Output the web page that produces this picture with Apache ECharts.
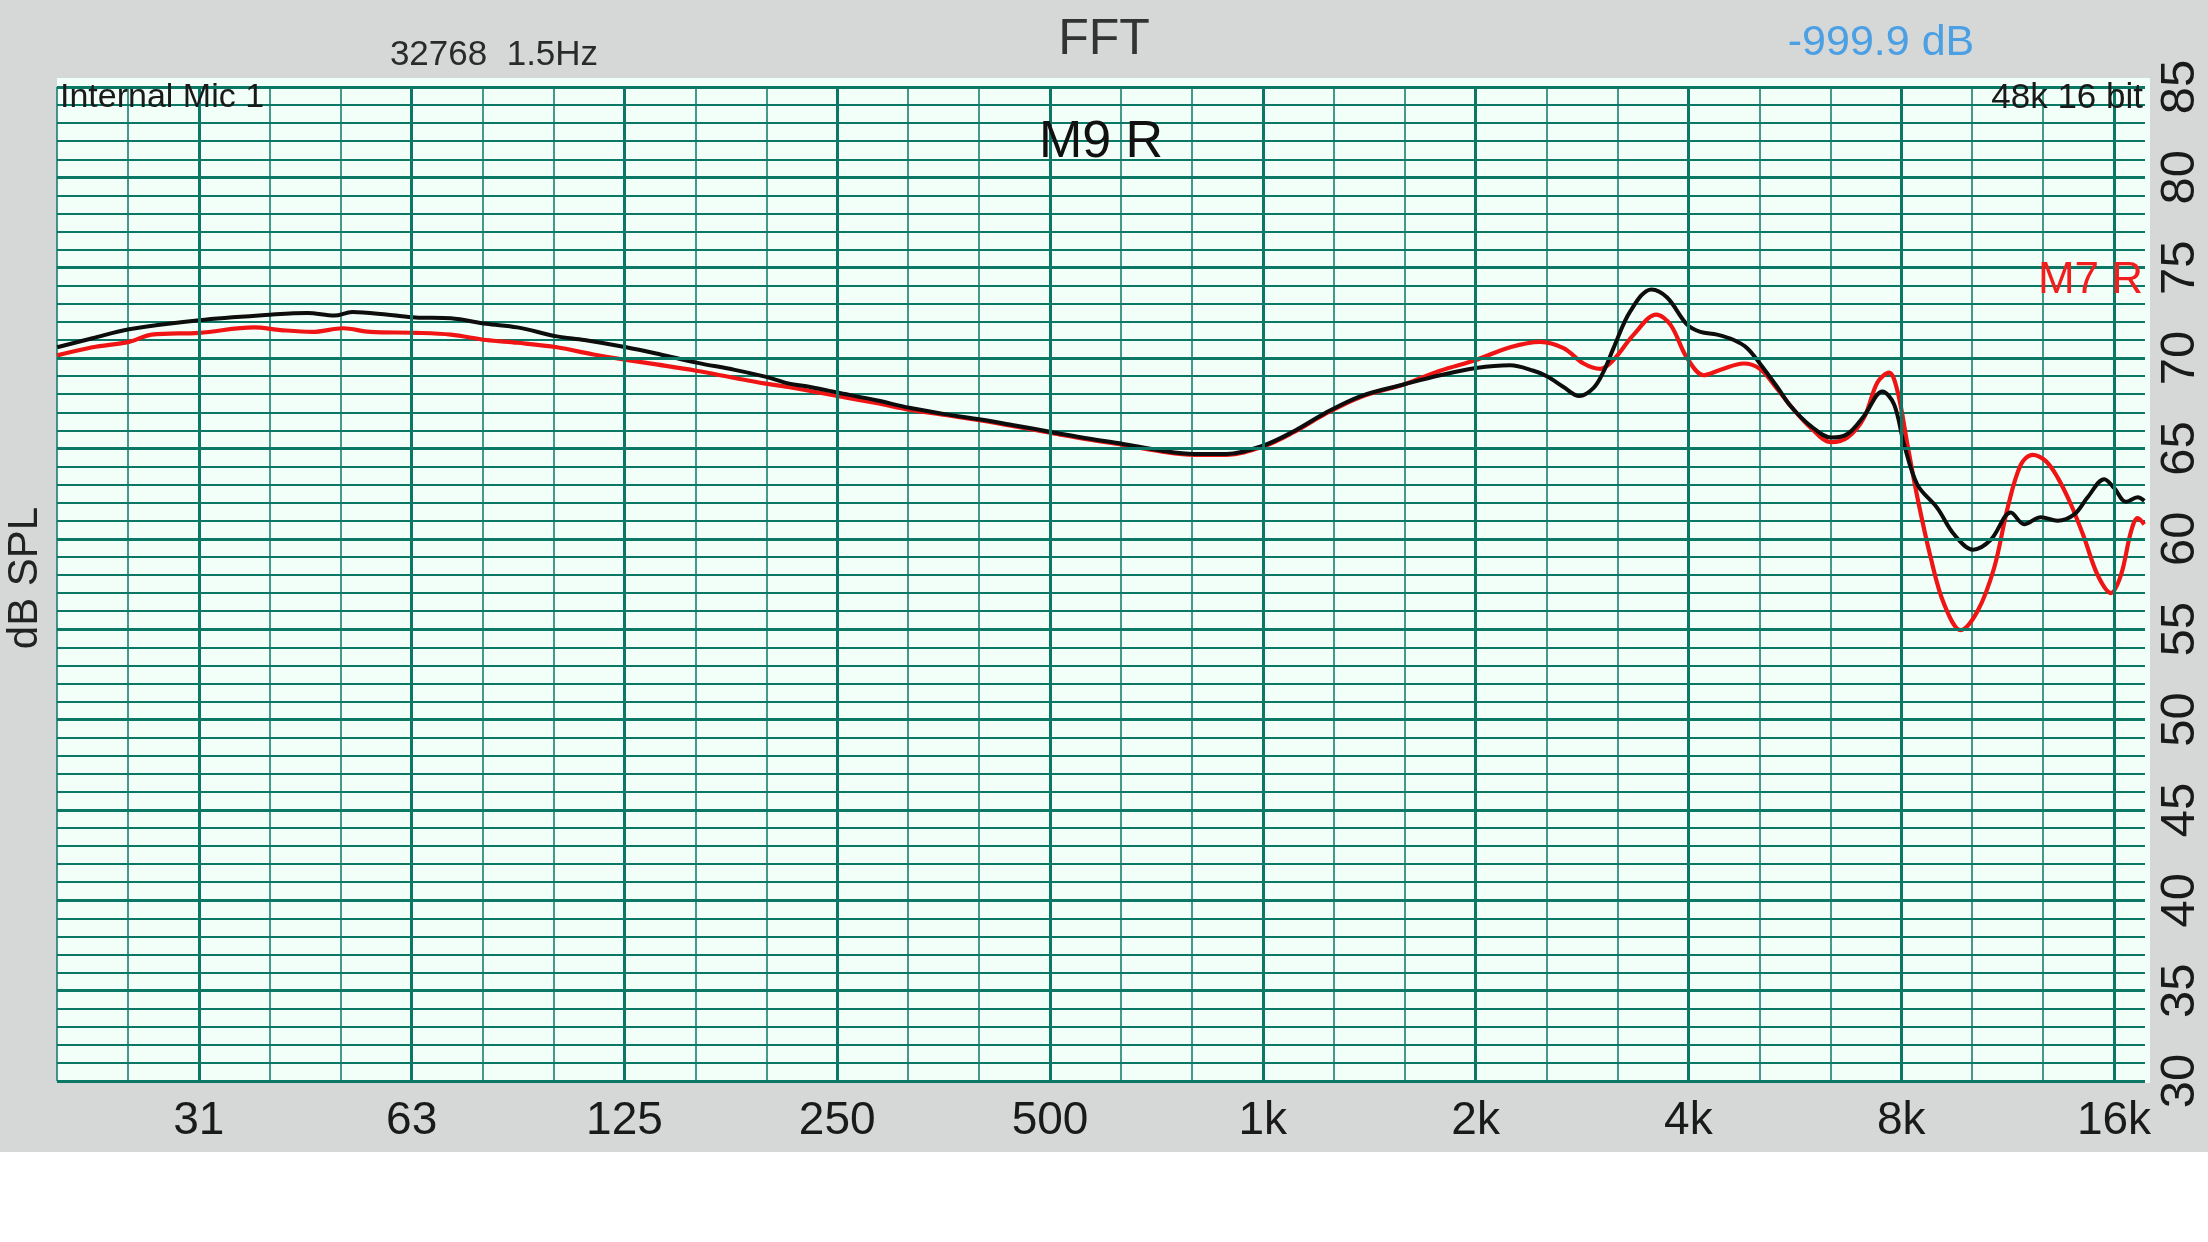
<!DOCTYPE html>
<html><head><meta charset="utf-8">
<script src="https://cdn.jsdelivr.net/npm/echarts@6/dist/echarts.min.js"></script>
<style>html,body{margin:0;padding:0;background:#fff;}#c{width:2208px;height:1242px;}</style>
</head><body><div id="c"></div>
<script>
// ---- data (frequency in Hz, level in dB SPL) ----
const m9Freq = [19.7,22.1,24.9,31.3,39.4,44.5,48.6,51.5,57.9,63.3,71,79.7,88.2,100.3,109.7,125.7,140.6,158,179,199,213,229,250,285,316,355,399,442,504,566,634,714,800,889,1000,1106,1224,1376,1586,1781,2003,2238,2415,2523,2663,2803,2937,3034,3134,3311,3546,3732,3983,4159,4392,4638,4844,5048,5342,5579,5955,6372,6714,7087,7524,7815,8072,8432,9000,9501,10113,10711,11432,11942,12608,13313,14055,14683,15499,16017,16635,17280,17660];
const m9Db   = [70.6,71.1,71.6,72.1,72.4,72.5,72.35,72.55,72.4,72.25,72.2,71.9,71.7,71.2,71.0,70.6,70.2,69.75,69.35,68.95,68.6,68.4,68.1,67.65,67.25,66.9,66.6,66.3,65.9,65.55,65.25,64.9,64.7,64.7,65.15,65.95,66.95,67.9,68.55,69.05,69.45,69.6,69.3,69.0,68.4,67.9,68.35,69.25,70.55,72.6,73.8,73.35,71.85,71.45,71.3,71.0,70.55,69.7,68.4,67.35,66.25,65.6,65.8,66.8,68.15,67.45,65.25,63.0,61.7,60.25,59.4,59.95,61.45,60.8,61.2,61.0,61.35,62.3,63.3,62.8,62.05,62.3,62.1];
const m7Freq = [19.7,22.1,24.9,26.8,31.3,37.4,40.8,45.2,50,54.6,63.3,71,79.7,88.2,100.3,113,125.7,138.7,158,179,197,213,250,285,316,355,399,442,504,566,634,714,800,889,1000,1106,1224,1376,1586,1781,2003,2238,2468,2663,2843,3002,3134,3347,3603,3772,3983,4205,4441,4791,5048,5342,5579,5955,6372,6714,7087,7403,7690,7901,8161,8432,8808,9197,9713,10260,10830,11313,11811,12270,12815,13313,13907,14522,15168,15843,16369,16910,17280,17660];
const m7Db   = [70.15,70.6,70.9,71.3,71.4,71.7,71.55,71.45,71.65,71.45,71.4,71.3,71.0,70.85,70.6,70.2,69.9,69.65,69.3,68.9,68.6,68.4,67.9,67.5,67.15,66.85,66.55,66.25,65.85,65.5,65.2,64.85,64.65,64.65,65.1,65.9,66.9,67.85,68.55,69.3,69.9,70.6,70.9,70.55,69.7,69.4,69.9,71.3,72.4,71.85,70.0,69.05,69.35,69.7,69.4,68.3,67.35,66.15,65.35,65.6,66.7,68.65,69.2,68.2,65.25,62.3,58.95,56.4,54.95,56.0,58.4,61.7,64.1,64.65,64.3,63.4,61.9,60.05,58.0,57.0,58.0,60.4,61.15,60.8];
const octaveFreqs  = [31.25,62.5,125,250,500,1000,2000,4000,8000,16000];
const octaveLabels = ['31','63','125','250','500','1k','2k','4k','8k','16k'];
const dbTicks = [30,35,40,45,50,55,60,65,70,75,80,85];
const axisMaxHz = 17700;

// ---- helpers ----
const oct = f => Math.log2(f / 1000);            // octaves relative to 1 kHz
const xMin = -17 / 3;                             // 17 third-octaves below 1 kHz
const xMax = oct(axisMaxHz);
const teal = '#0b7765';
const toPairs = (fs, ds) => fs.map((f, i) => [oct(f), ds[i]]);

const chart = echarts.init(document.getElementById('c'), null, {renderer: 'canvas'});
chart.setOption({
  animation: false,
  grid: {left: 57, right: 63, top: 87, bottom: 161, containLabel: false},
  xAxis: {
    type: 'value', min: xMin, max: xMax, interval: 1 / 3,
    axisLine: {show: false}, axisTick: {show: false},
    splitLine: {show: true, showMaxLine: false, lineStyle: {color: teal, width: 1.5}},
    axisLabel: {
      margin: 17, fontSize: 46, fontFamily: '"Liberation Sans Narrow", "Liberation Sans", sans-serif', color: '#1a1a1a',
      formatter: v => {
        const k = Math.round(v);
        if (Math.abs(v - k) > 1e-6) return '';
        const idx = octaveFreqs.findIndex(f => Math.abs(oct(f) - k) < 1e-6);
        return idx >= 0 ? octaveLabels[idx] : '';
      }
    }
  },
  yAxis: {
    type: 'value', position: 'right', min: 30, max: 85, interval: 1,
    axisLine: {show: false}, axisTick: {show: false},
    splitLine: {show: true, lineStyle: {color: teal, width: 2}},
    axisLabel: {
      rotate: 90, margin: 11, fontSize: 49, fontFamily: '"Liberation Sans Narrow", "Liberation Sans", sans-serif', color: '#1a1a1a',
      formatter: v => dbTicks.includes(Math.round(v)) && Math.abs(v - Math.round(v)) < 1e-6 ? String(Math.round(v)) : ''
    }
  },
  graphic: [
    {type: 'rect', z: -10, silent: true, shape: {x: 0, y: 0, width: 2208, height: 1152}, style: {fill: '#d6d7d7'}},
    {type: 'rect', z: -9, silent: true, shape: {x: 57, y: 78, width: 2093, height: 1005}, style: {fill: '#f2fff9'}},
    {type: 'text', x: 1104, y: 40, style: {text: 'FFT', fontSize: 50, fontFamily: '"Liberation Sans", Arial, sans-serif', fill: '#333', align: 'center', verticalAlign: 'middle'}},
    {type: 'text', x: 494, y: 55, style: {text: '32768  1.5Hz', fontSize: 35, fontFamily: '"Liberation Sans", Arial, sans-serif', fill: '#2a2a2a', align: 'center', verticalAlign: 'middle'}},
    {type: 'text', x: 1881, y: 43, style: {text: '-999.9 dB', fontSize: 43, fontFamily: '"Liberation Sans", Arial, sans-serif', fill: '#4ba0e4', align: 'center', verticalAlign: 'middle'}},
    {type: 'text', x: 60, y: 98, z: 10, style: {text: 'Internal Mic 1', fontSize: 34, fontFamily: '"Liberation Sans", Arial, sans-serif', fill: '#1a1a1a', align: 'left', verticalAlign: 'middle'}},
    {type: 'text', x: 2143, y: 98, z: 10, style: {text: '48k 16 bit', fontSize: 35, fontFamily: '"Liberation Sans", Arial, sans-serif', fill: '#1a1a1a', align: 'right', verticalAlign: 'middle'}},
    {type: 'text', x: 1101, y: 143, z: 10, style: {text: 'M9 R', fontSize: 52, fontFamily: '"Liberation Sans", Arial, sans-serif', fill: '#111', align: 'center', verticalAlign: 'middle'}},
    {type: 'text', x: 2143, y: 281, z: 10, style: {text: 'M7 R', fontSize: 44, fontFamily: '"Liberation Sans", Arial, sans-serif', fill: '#f21d1d', align: 'right', verticalAlign: 'middle'}},
    {type: 'text', x: 25, y: 578, rotation: Math.PI / 2, style: {text: 'dB SPL', fontSize: 42, fontFamily: '"Liberation Sans", Arial, sans-serif', fill: '#222', align: 'center', verticalAlign: 'middle'}}
  ],
  series: [
    {
      type: 'line', data: [], z: 1, silent: true,
      markLine: {
        silent: true, symbol: ['none', 'none'], label: {show: false}, animation: false,
        lineStyle: {color: teal, width: 3, type: 'solid'}, emphasis: {disabled: true},
        data: [...octaveFreqs.map(f => ({xAxis: oct(f)})), ...dbTicks.map(v => ({yAxis: v}))]
      }
    },
    {
      name: 'M7 R', type: 'line', data: toPairs(m7Freq, m7Db), z: 3, symbol: 'none', smooth: 0.35,
      lineStyle: {color: '#f01515', width: 4.2}, emphasis: {disabled: true}
    },
    {
      name: 'M9 R', type: 'line', data: toPairs(m9Freq, m9Db), z: 4, symbol: 'none', smooth: 0.35,
      lineStyle: {color: '#0d0d0d', width: 4}, emphasis: {disabled: true}
    }
  ]
});
</script></body></html>
